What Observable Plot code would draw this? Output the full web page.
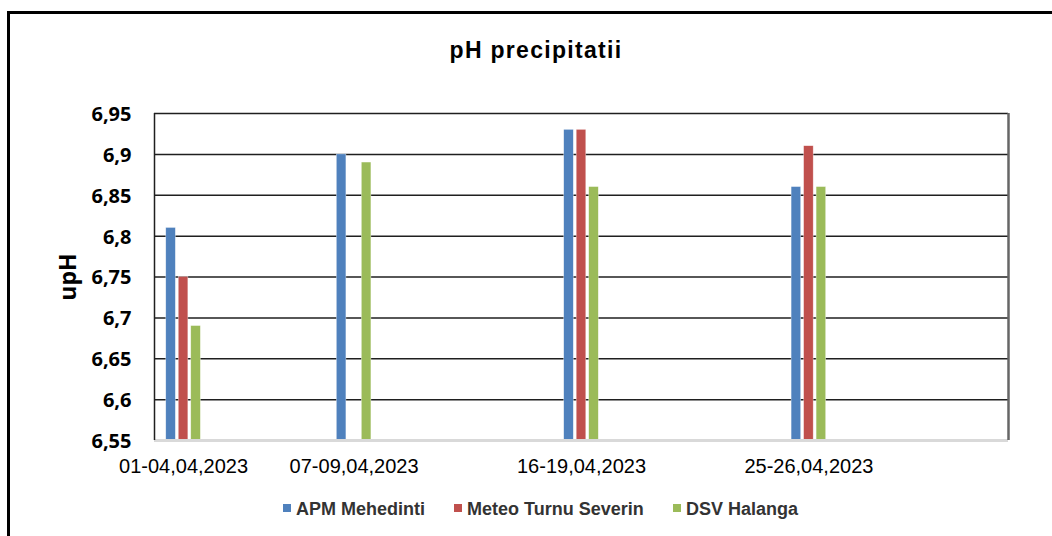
<!DOCTYPE html>
<html><head><meta charset="utf-8">
<script src="https://cdn.jsdelivr.net/npm/d3@7"></script>
<script src="https://cdn.jsdelivr.net/npm/@observablehq/plot@0.6"></script>
<style>
body{margin:0;background:#fff;width:1052px;height:536px;overflow:hidden;position:relative;font-family:"Liberation Sans",Arial,sans-serif}
#frame{position:absolute;left:7px;top:11px;width:2000px;height:1000px;border-left:3px solid #000;border-top:3px solid #000;box-sizing:border-box}
#title{position:absolute;left:0;width:1072px;top:37px;text-align:center;font-weight:bold;font-size:23px;letter-spacing:1.3px;color:#000}
#ylabel{position:absolute;left:67px;top:277px;transform:translate(-50%,-50%) rotate(-90deg);font-weight:bold;font-size:23px;font-family:"Open Sans",sans-serif;color:#000;white-space:nowrap}
#chart{position:absolute;left:0;top:0}
#legend{position:absolute;top:499px;left:0;width:1052px;height:24px;font-size:18px;font-weight:bold;color:#333}
#legend div{position:absolute;top:0;white-space:nowrap}
#legend span.sw{display:inline-block;width:8px;height:8px;margin-right:5px;vertical-align:middle;position:relative;top:-2px}
</style>
</head><body>
<div id="frame"></div>
<div id="title"></div>
<div id="ylabel"></div>
<div id="chart"></div>
<div id="legend"></div>
<script>
// ---- data ----
const periods = ["01-04,04,2023", "07-09,04,2023", "16-19,04,2023", "25-26,04,2023"];
// approximate position of each sampling period on the (date) axis, in days of April
const periodDay = [0.25, 7, 16, 25];
const seriesNames = ["APM Mehedinti", "Meteo Turnu Severin", "DSV Halanga"];
const apmMehedinti = [6.81, 6.90, 6.93, 6.86];
const meteoTurnuSeverin = [6.75, null, 6.93, 6.91];
const dsvHalanga = [6.69, 6.89, 6.86, 6.86];
const yTicks = [6.55, 6.6, 6.65, 6.7, 6.75, 6.8, 6.85, 6.9, 6.95];
const titleText = "pH precipitatii";
const yLabel = "upH";

const seriesValues = [apmMehedinti, meteoTurnuSeverin, dsvHalanga];
const colors = ["#4F81BD", "#C0504D", "#9BBB59"];
const legendLeft = [283, 454, 673];

const fmt = d => String(+d.toFixed(2)).replace(".", ",");

const barMarks = seriesValues.map((vals, si) => {
  const rows = periods.map((p, i) => ({period: p, pos: periodDay[i], value: vals[i]})).filter(r => r.value != null);
  return Plot.rect(rows, {
    x1: d => d.pos - 0.19,
    x2: d => d.pos + 0.19,
    y1: d => 6.55,
    y2: "value",
    fill: colors[si],
    dx: (si - 1) * 12.5,
    stroke: "#ffffff",
    strokeOpacity: 0.6,
    strokeWidth: 0.6
  });
});

const chart = Plot.plot({
  width: 1052,
  height: 490,
  marginLeft: 154,
  marginRight: 44,
  marginTop: 113,
  marginBottom: 50,
  style: {background: "transparent", overflow: "visible"},
  x: {type: "linear", domain: [-0.9, 32.9], axis: null},
  y: {domain: [6.55, 6.95], axis: null},
  marks: [
    Plot.ruleY(yTicks.filter(d => d > 6.55), {stroke: "#1f1f1f", strokeWidth: 1.5}),
    ...barMarks,
    Plot.ruleY([6.55], {stroke: "#d9d9d9", strokeWidth: 3}),
    Plot.ruleX([-0.9], {stroke: "#1f1f1f", strokeWidth: 1.5}),
    Plot.ruleX([32.9], {stroke: "#666666", strokeWidth: 2.5}),
    Plot.text(yTicks, {
      y: d => d, frameAnchor: "left", dx: -23, textAnchor: "end", text: fmt,
      fontSize: 20, fontWeight: "bold", fontFamily: "Open Sans", fill: "#000", dy: 1
    }),
    Plot.text(periods, {
      x: (d, i) => periodDay[i], y: d => 6.55, dy: 26, text: d => d,
      fontSize: 20, fontFamily: "Liberation Sans", fill: "#000"
    })
  ]
});
document.getElementById("chart").appendChild(chart);
document.getElementById("title").textContent = titleText;
document.getElementById("ylabel").textContent = yLabel;
const leg = document.getElementById("legend");
seriesNames.forEach((n, i) => {
  const it = document.createElement("div");
  it.style.left = legendLeft[i] + "px";
  it.innerHTML = `<span class="sw" style="background:${colors[i]}"></span>${n}`;
  leg.appendChild(it);
});
</script>
</body></html>
